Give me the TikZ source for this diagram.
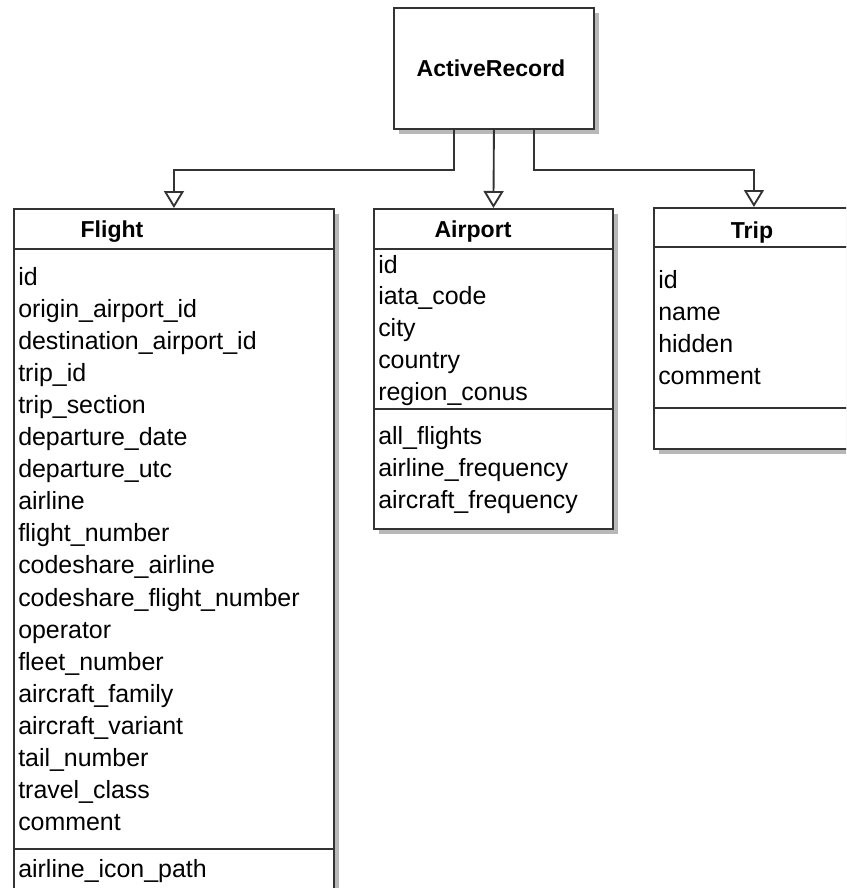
\documentclass[tikz,border=0pt]{standalone}
\usepackage{fontspec}
\setmainfont{Liberation Sans}
\usetikzlibrary{arrows.meta}
\usetikzlibrary{shadows}

\begin{document}
\begin{tikzpicture}[x=0.75pt,y=-0.75pt,
  umlbox/.style 2 args={draw=black!80, line width=1.4pt, fill=white,
    drop shadow={shadow xshift=3.5pt, shadow yshift=-3.5pt, fill=black!28, opacity=1},
    minimum width=#1*0.75pt, minimum height=#2*0.75pt, inner sep=0pt, anchor=north west},
  classname/.style={font=\fontsize{17.3}{20}\selectfont\bfseries, inner sep=0pt, anchor=base},
  attr/.style={font=\fontsize{18.7}{22}\selectfont, inner sep=0pt, anchor=base west},
  divider/.style={draw=black!80, line width=1.4pt},
  gen/.style={draw=black!80, line width=1.4pt, -{Triangle[open, length=12.75pt, width=15pt]}}]

  \clip (0,0) rectangle (846,888);

  % boxes
  \node[umlbox={200}{121}] (ar) at (393,7) {};
  \node[umlbox={320}{720}] (flight) at (13,208) {};
  \node[umlbox={239}{320}] (airport) at (373,208) {};
  \node[umlbox={200}{241}] (trip) at (653,207) {};

  \draw[divider] (13,249) -- (333,249);
  \draw[divider] (13,849) -- (333,849);
  \draw[divider] (373,249) -- (612,249);
  \draw[divider] (373,409) -- (612,409);
  \draw[divider] (653,247) -- (853,247);
  \draw[divider] (653,408) -- (853,408);

  % names
  \node[classname] (ar-name) at (491,77) {ActiveRecord};
  \node[classname] (flight-name) at (112,237) {Flight};
  \node[classname] (airport-name) at (473,237) {Airport};
  \node[classname] (trip-name) at (752,238) {Trip};

  % attributes
  \foreach \a [count=\i from 0] in {id, origin\_airport\_id, destination\_airport\_id,
      trip\_id, trip\_section, departure\_date, departure\_utc, airline,
      flight\_number, codeshare\_airline, codeshare\_flight\_number, operator,
      fleet\_number, aircraft\_family, aircraft\_variant, tail\_number,
      travel\_class, comment}
    \node[attr] (fl-\i) at (18,285+32.1*\i) {\a};
  \node[attr] (fl-op) at (18,877) {airline\_icon\_path};

  \foreach \a [count=\i from 0] in {id, iata\_code, city, country, region\_conus}
    \node[attr] (ap-\i) at (378,273+31.8*\i) {\a};
  \foreach \a [count=\i from 0] in {all\_flights, airline\_frequency, aircraft\_frequency}
    \node[attr] (ap-op\i) at (378,444+32*\i) {\a};

  \foreach \a [count=\i from 0] in {id, name, hidden, comment}
    \node[attr] (tr-\i) at (658,288+32.3*\i) {\a};

  % inheritance
  \draw[gen] ([xshift=-30pt]ar.south) -- ++(0,40) -| (flight.north);
  \draw[gen] (ar.south) -- (airport.north);
  \draw[gen] ([xshift=30pt]ar.south) -- ++(0,40) -| (trip.north);
\end{tikzpicture}
\end{document}
